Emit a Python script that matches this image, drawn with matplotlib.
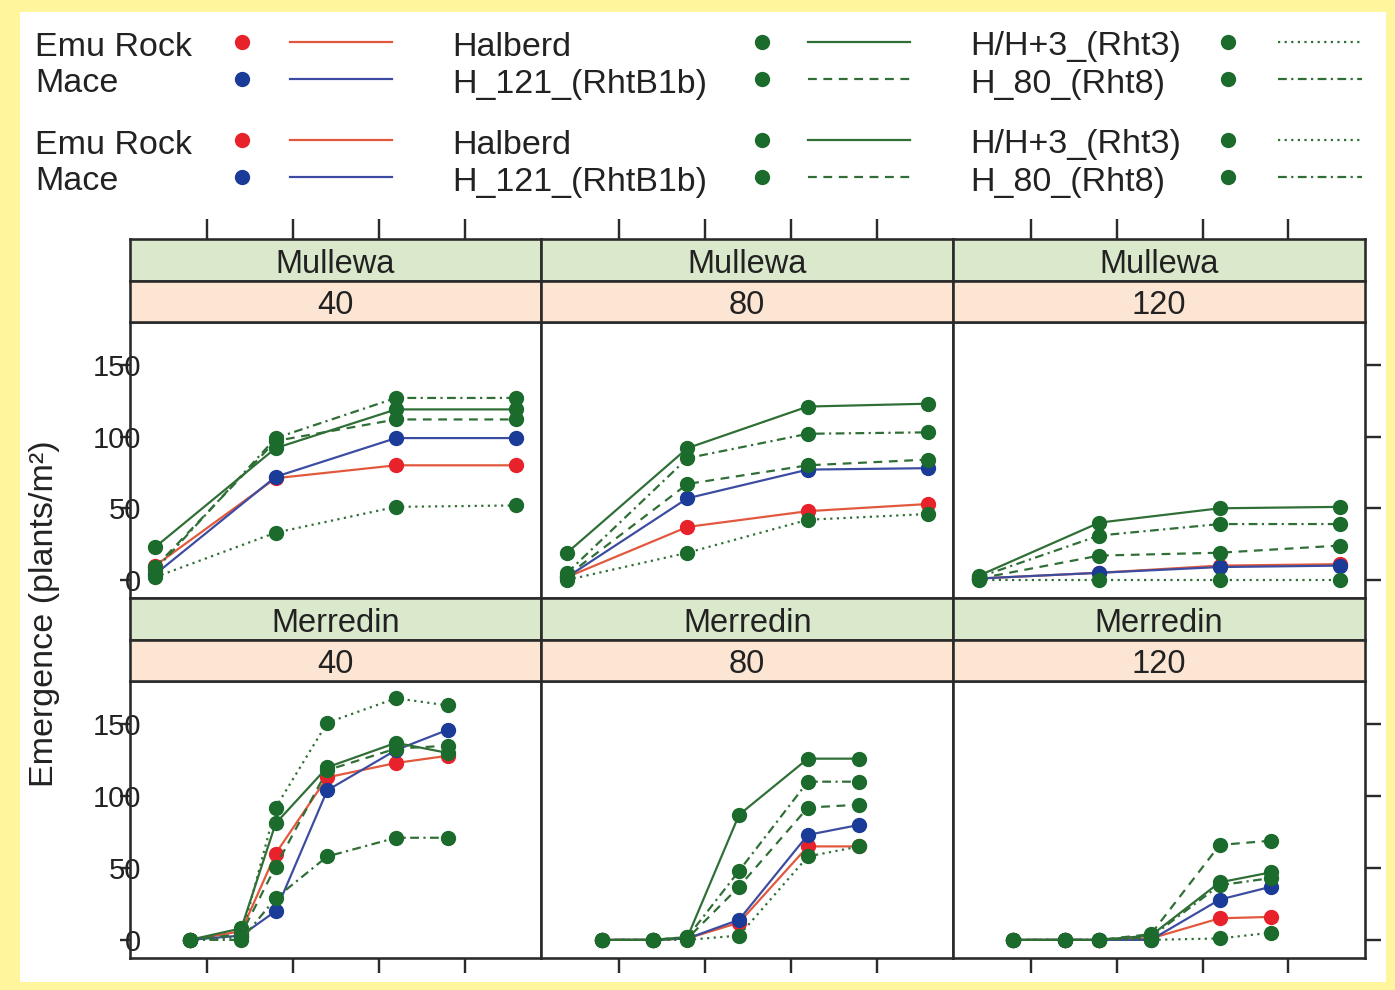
import matplotlib
matplotlib.use("Agg")
import matplotlib.pyplot as plt
from matplotlib.patches import Rectangle

plt.rcParams['font.family'] = ['Liberation Sans', 'DejaVu Sans']

# ---------------- data ----------------
sites = ["Mullewa", "Merredin"]
depths = ["40", "80", "120"]
varieties = ["Emu Rock", "Mace", "Halberd", "H_121_(RhtB1b)", "H/H+3_(Rht3)", "H_80_(Rht8)"]
x_mullewa = [4, 18, 32, 46]
x_merredin = [8, 14, 18, 24, 32, 38]
x_ticks = [10, 20, 30, 40]
y_ticks = [0, 50, 100, 150]

mullewa_40 = {
    "Emu Rock":       [10, 71, 80, 80],
    "Mace":           [4, 72, 99, 99],
    "Halberd":        [23, 92, 119, 119],
    "H_121_(RhtB1b)": [9, 97, 112, 112],
    "H/H+3_(Rht3)":   [2, 33, 51, 52],
    "H_80_(Rht8)":    [7, 99, 127, 127],
}
mullewa_80 = {
    "Emu Rock":       [2, 37, 48, 53],
    "Mace":           [2, 57, 77, 78],
    "Halberd":        [19, 92, 121, 123],
    "H_121_(RhtB1b)": [3, 67, 80, 84],
    "H/H+3_(Rht3)":   [0, 19, 42, 46],
    "H_80_(Rht8)":    [5, 85, 102, 103],
}
mullewa_120 = {
    "Emu Rock":       [1, 5, 10, 11],
    "Mace":           [1, 5, 9, 10],
    "Halberd":        [3, 40, 50, 51],
    "H_121_(RhtB1b)": [1, 17, 19, 24],
    "H/H+3_(Rht3)":   [0, 0, 0, 0],
    "H_80_(Rht8)":    [2, 31, 39, 39],
}
merredin_40 = {
    "Emu Rock":       [0, 6, 60, 113, 123, 128],
    "Mace":           [0, 3, 20, 104, 132, 146],
    "Halberd":        [0, 8, 81, 120, 137, 130],
    "H_121_(RhtB1b)": [0, 4, 51, 118, 133, 135],
    "H/H+3_(Rht3)":   [0, 2, 92, 151, 168, 163],
    "H_80_(Rht8)":    [0, 0, 29, 58, 71, 71],
}
merredin_80 = {
    "Emu Rock":       [0, 0, 1, 12, 65, 65],
    "Mace":           [0, 0, 1, 14, 73, 80],
    "Halberd":        [0, 0, 2, 87, 126, 126],
    "H_121_(RhtB1b)": [0, 0, 1, 37, 92, 94],
    "H/H+3_(Rht3)":   [0, 0, 0, 3, 58, 65],
    "H_80_(Rht8)":    [0, 0, 2, 48, 110, 110],
}
merredin_120 = {
    "Emu Rock":       [0, 0, 0, 1, 15, 16],
    "Mace":           [0, 0, 0, 0, 28, 37],
    "Halberd":        [0, 0, 0, 3, 40, 47],
    "H_121_(RhtB1b)": [0, 0, 0, 4, 66, 69],
    "H/H+3_(Rht3)":   [0, 0, 0, 0, 1, 5],
    "H_80_(Rht8)":    [0, 0, 0, 2, 38, 43],
}

panel_data = {
    ("Mullewa", "40"): mullewa_40, ("Mullewa", "80"): mullewa_80, ("Mullewa", "120"): mullewa_120,
    ("Merredin", "40"): merredin_40, ("Merredin", "80"): merredin_80, ("Merredin", "120"): merredin_120,
}
site_x = {"Mullewa": x_mullewa, "Merredin": x_merredin}

# ---------------- styles ----------------
GREEN_M = "#1b6b2c"
GREEN_L = "#2f6e35"
styles = {
    "Emu Rock":       dict(mc="#e8222a", lc="#e2583c", ls="-"),
    "Mace":           dict(mc="#1a3b98", lc="#3c4ca0", ls="-"),
    "Halberd":        dict(mc=GREEN_M, lc=GREEN_L, ls="-"),
    "H_121_(RhtB1b)": dict(mc=GREEN_M, lc=GREEN_L, ls=(0, (4, 3))),
    "H/H+3_(Rht3)":   dict(mc=GREEN_M, lc=GREEN_L, ls=(0, (1, 2))),
    "H_80_(Rht8)":    dict(mc=GREEN_M, lc=GREEN_L, ls=(0, (4, 2, 1, 2))),
}

W, H = 1395, 990
PT = 0.72  # points per pixel at dpi 100
EDGE = "#2a2a2a"
STRIP_GREEN = "#dae8cb"
STRIP_PEACH = "#fde5d3"
XLIM = (1.0, 48.9)
YLIM = (-12.6, 180)

fig = plt.figure(figsize=(W / 100, H / 100), dpi=100)
fig.patch.set_facecolor("#fff59c")
fig.patches.append(Rectangle((20 / W, 1 - 982 / H), (1386 - 20) / W, (982 - 12) / H,
                             transform=fig.transFigure, facecolor="white", edgecolor="none", zorder=-10))


def rect(x0, y0, x1, y1):
    return [x0 / W, 1 - y1 / H, (x1 - x0) / W, (y1 - y0) / H]


def style_spines(ax):
    for s in ax.spines.values():
        s.set_linewidth(2.6 * PT)
        s.set_color(EDGE)


left0, right0 = 129.5, 1365.0
col_w = (right0 - left0) / 3
rows_px = [
    dict(green=(239, 281), peach=(281, 322), plot=(322, 598)),
    dict(green=(598, 640), peach=(640, 681), plot=(681, 958)),
]

for r, site in enumerate(sites):
    geo = rows_px[r]
    for c, depth in enumerate(depths):
        x0 = left0 + c * col_w
        x1 = x0 + col_w
        ax = fig.add_axes(rect(x0, geo["plot"][0], x1, geo["plot"][1]))
        data = panel_data[(site, depth)]
        xs = site_x[site]
        for v in varieties:
            st = styles[v]
            ax.plot(xs, data[v], color=st["lc"], ls=st["ls"], lw=2.2 * PT,
                    marker="o", ms=10, mfc=st["mc"], mec=st["mc"], zorder=3)
        ax.set_xlim(*XLIM)
        ax.set_ylim(*YLIM)
        ax.set_xticks(x_ticks)
        ax.set_yticks(y_ticks)
        ax.set_yticklabels([str(t) for t in y_ticks])
        style_spines(ax)
        ax.tick_params(axis="both", width=2.4 * PT, color=EDGE, labelsize=21, labelcolor="#222222")
        ax.tick_params(axis="x", top=False, labeltop=False, labelbottom=False,
                       bottom=(r == 1), length=15 * PT, direction="out")
        if c == 0:
            ax.tick_params(axis="y", left=True, labelleft=True, right=False, labelright=False,
                           length=10 * PT, pad=-22 * PT, direction="out")
        elif c == 2:
            ax.tick_params(axis="y", left=False, labelleft=False, right=True, labelright=False,
                           length=16 * PT, direction="out")
        else:
            ax.tick_params(axis="y", left=False, labelleft=False, right=False, labelright=False)
        for lab in ax.get_yticklabels():
            lab.set_zorder(5)

        # strips
        for key, col, txt in (("green", STRIP_GREEN, site), ("peach", STRIP_PEACH, depth)):
            sa = fig.add_axes(rect(x0, geo[key][0], x1, geo[key][1]))
            sa.set_facecolor(col)
            sa.set_xlim(*XLIM)
            sa.set_ylim(0, 1)
            sa.set_yticks([])
            style_spines(sa)
            sa.text(0.5, 0.40, txt, transform=sa.transAxes, ha="center", va="center",
                    fontsize=23.5, color="#222222")
            if r == 0 and key == "green":
                sa.set_xticks(x_ticks)
                sa.tick_params(axis="x", top=True, bottom=False, labeltop=False, labelbottom=False,
                               length=20 * PT, width=2.4 * PT, color=EDGE, direction="out")
            else:
                sa.set_xticks([])

fig.text(45 / W, 1 - 614 / H, "Emergence (plants/m²)", rotation=90, ha="center", va="center",
         fontsize=24.5, color="#222222")

# ---------------- key ----------------
kx = fig.add_axes([0, 0, 1, 1], zorder=10)
kx.set_xlim(0, W)
kx.set_ylim(H, 0)
kx.axis("off")
kx.patch.set_alpha(0)

groups = [
    (35, 242, (290, 392), [varieties[0], varieties[1]]),
    (452, 762, (808, 910), [varieties[2], varieties[3]]),
    (970, 1228, (1278, 1362), [varieties[4], varieties[5]]),
]
block_rows = [(44, 81), (142, 179)]
for rows in block_rows:
    for tx, dx, (l0, l1), names in groups:
        for y, name in zip(rows, names):
            st = styles[name]
            kx.text(tx, y + 3, name, ha="left", va="center", fontsize=24.5, color="#222222")
            kx.plot([dx], [y - 2], marker="o", ms=10, color=st["mc"], ls="none")
            kx.plot([l0, l1], [y - 2, y - 2], color=st["lc"], ls=st["ls"], lw=2.2 * PT)

fig.savefig("out.png", dpi=100, facecolor=fig.get_facecolor())
